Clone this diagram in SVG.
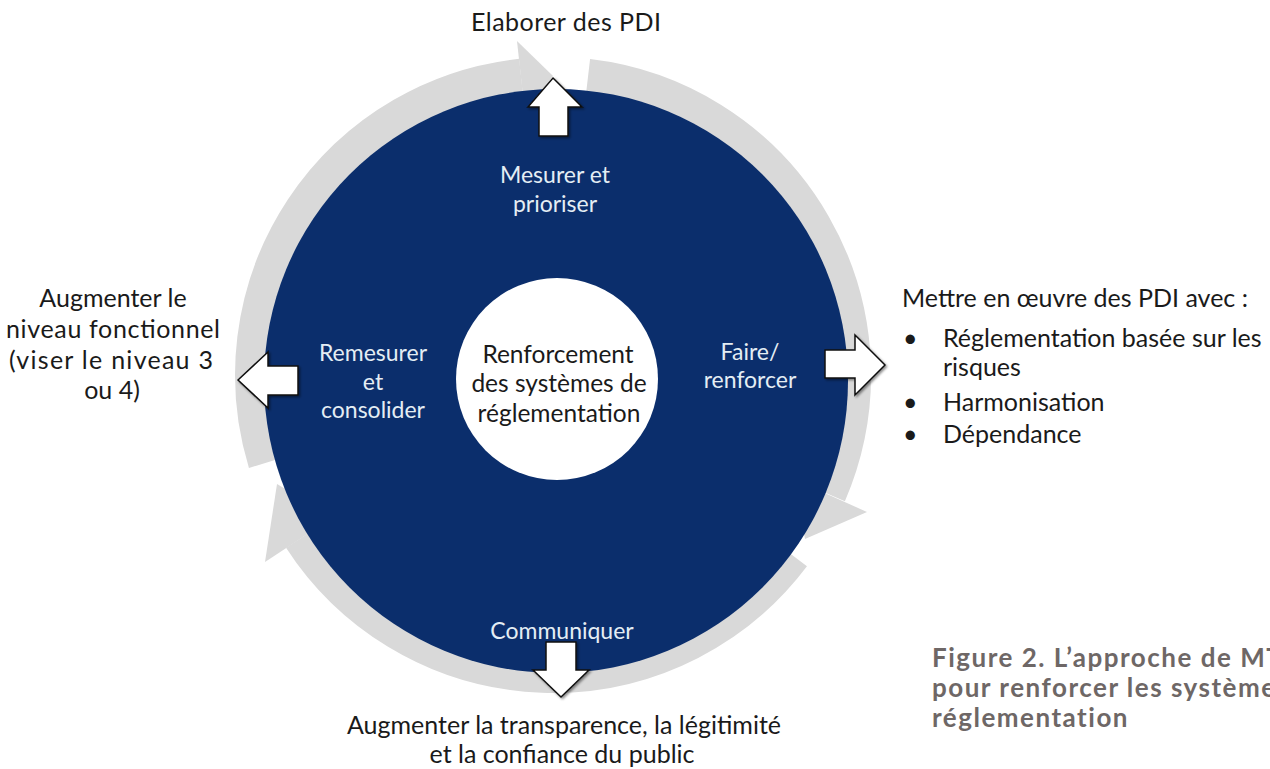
<svg xmlns="http://www.w3.org/2000/svg" width="1270" height="769" viewBox="0 0 1270 769">
<style>
.t{font-family:Lato,"Open Sans","Liberation Sans",sans-serif;fill:#1a1a1a;font-size:25px;text-anchor:middle}
.w{font-family:Lato,"Open Sans","Liberation Sans",sans-serif;fill:#e4edf4;font-size:23px;text-anchor:middle}
.c{font-family:Lato,"Open Sans","Liberation Sans",sans-serif;fill:#1a1a1a;font-size:24.5px;text-anchor:middle}
.l{font-family:Lato,"Open Sans","Liberation Sans",sans-serif;fill:#1a1a1a;font-size:25px}
.cap{font-family:Lato,"Open Sans","Liberation Sans",sans-serif;fill:#6e6766;font-size:26px;font-weight:bold;letter-spacing:1.5px}
.ring{fill:none;stroke:#d9d9d9;stroke-width:34}
.head{fill:#d9d9d9}
.blk{fill:#ffffff;stroke:#111111;stroke-width:1.5;stroke-linejoin:miter;filter:url(#sh)}
</style>
<defs>
<filter id="sh" x="-30%" y="-30%" width="160%" height="160%">
<feDropShadow dx="1.5" dy="1.5" stdDeviation="1" flood-color="#000" flood-opacity="0.45"/>
</filter>
</defs>
<rect width="1270" height="769" fill="#ffffff"/>
<g id="cycle-ring">
<path class="ring" d="M265.2,463 A301,301 0 0 1 521,75.7"/>
<polygon class="head" points="517,41 553,76 525,114.5"/>
<path class="ring" d="M588.1,76 A301,301 0 0 1 829.3,494.5"/>
<polygon class="head" points="867,512 805,539 793.5,479"/>
<path class="ring" d="M793.4,556.1 A301,301 0 0 1 300.3,538.5"/>
<polygon class="head" points="265,562 277,484 333,517.3"/>
</g>
<g id="main-circle">
<circle cx="556" cy="381" r="292" fill="#0b2e6c"/>
</g>
<g id="center">
<circle cx="557" cy="379" r="101" fill="#ffffff"/>
<text class="c" x="558" y="363">Renforcement</text>
<text class="c" x="559" y="392">des systèmes de</text>
<text class="c" x="559" y="422">réglementation</text>
</g>
<g id="step-measure">
<text class="w" x="555" y="183">Mesurer et</text>
<text class="w" x="555" y="212">prioriser</text>
</g>
<g id="step-do">
<text class="w" x="750" y="360">Faire/</text>
<text class="w" x="750" y="388">renforcer</text>
</g>
<g id="step-communicate">
<text class="w" x="562" y="639">Communiquer</text>
</g>
<g id="step-remeasure">
<text class="w" x="373" y="361">Remesurer</text>
<text class="w" x="373" y="390">et</text>
<text class="w" x="373" y="418">consolider</text>
</g>
<g id="connectors">
<polygon class="blk" points="553,78 582,107 568,107 568,136 539,136 539,107 528,107"/>
<polygon class="blk" points="885,365 855,335 855,350 825,350 825,378 855,378 855,395"/>
<polygon class="blk" points="561,697 589,670 576,670 576,642 546,642 546,670 533,670"/>
<polygon class="blk" points="238,380 268,352 268,366 298,366 298,395 268,395 268,408"/>
</g>
<g id="out-top">
<text class="t" x="566" y="31" textLength="190" lengthAdjust="spacing">Elaborer des PDI</text>
</g>
<g id="out-left">
<text class="t" x="113" y="307">Augmenter le</text>
<text class="t" x="113" y="338" textLength="214" lengthAdjust="spacing">niveau fonctionnel</text>
<text class="t" x="111" y="369" textLength="204" lengthAdjust="spacing">(viser le niveau 3</text>
<text class="t" x="112" y="399">ou 4)</text>
</g>
<g id="out-right">
<text class="l" x="902" y="307">Mettre en œuvre des PDI avec :</text>
<text class="l" x="903" y="347">•</text>
<text class="l" x="943" y="347">Réglementation basée sur les</text>
<text class="l" x="943" y="376">risques</text>
<text class="l" x="903" y="411">•</text>
<text class="l" x="943" y="411">Harmonisation</text>
<text class="l" x="903" y="443">•</text>
<text class="l" x="943" y="443">Dépendance</text>
</g>
<g id="out-bottom">
<text class="t" x="564" y="734">Augmenter la transparence, la légitimité</text>
<text class="t" x="562" y="763">et la confiance du public</text>
</g>
<g id="caption">
<text class="cap" x="932" y="667">Figure 2. L’approche de MT</text>
<text class="cap" x="932" y="697">pour renforcer les systèmes</text>
<text class="cap" x="932" y="727">réglementation</text>
</g>
</svg>
